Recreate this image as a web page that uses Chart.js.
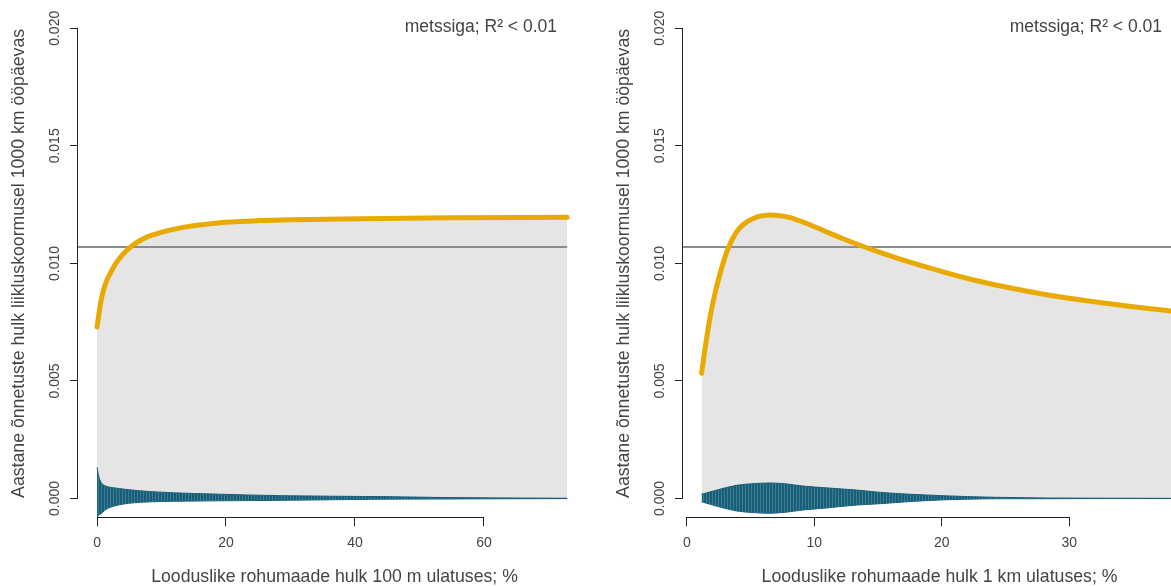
<!DOCTYPE html>
<html>
<head>
<meta charset="utf-8">
<script src="https://cdn.jsdelivr.net/npm/chart.js@4.4.1/dist/chart.umd.min.js"></script>
<style>
  html, body { margin: 0; padding: 0; background: #fff; overflow: hidden; width: 1171px; height: 586px; }
  .panel { position: absolute; top: 0; width: 605px; height: 586px; }
  #panel-left { left: 0; }
  #panel-right { left: 605px; }
</style>
</head>
<body>
<div class="panel" id="panel-left"><canvas id="chart-left" width="605" height="586"></canvas></div>
<div class="panel" id="panel-right"><canvas id="chart-right" width="605" height="586"></canvas></div>
<script>
// Shared
const yTicks = [0, 0.005, 0.010, 0.015, 0.020];
const yTitle = 'Aastane õnnetuste hulk liikluskoormusel 1000 km ööpäevas';
const noteText = 'metssiga; R² < 0.01';
const refLevel = 0.0107;

// Left panel - 100 m buffer
const leftTitle = 'Looduslike rohumaade hulk 100 m ulatuses; %';
const leftTicks = [0, 20, 40, 60];
const leftCurveX = [0, 0.25, 0.5, 0.75, 1, 1.5, 2, 3, 4, 5, 6, 7.2, 8.5, 9.8, 12, 14.9, 17, 20, 25, 30, 40.8, 55, 72.9];
const leftCurveY = [0.0073, 0.00778, 0.00822, 0.00858, 0.00886, 0.00927, 0.00955, 0.01003, 0.01038, 0.01065, 0.01086, 0.01105, 0.0112, 0.01131, 0.01146, 0.0116, 0.01167, 0.01175, 0.01182, 0.01186, 0.0119, 0.01194, 0.01196];
const leftBandX = [0, 0.3, 0.73, 1.24, 2, 3.3, 5, 8.5, 12, 18, 28.4, 44, 54, 65, 72.9];
const leftBandHigh = [0.00133, 0.0009, 0.00065, 0.00054, 0.00048, 0.00043, 0.00037, 0.00029, 0.00024, 0.00019, 0.00012, 0.00008, 0.00004, 0.00002, 0.00001];
const leftBandLow = [-0.0008, -0.0007, -0.00063, -0.00049, -0.00038, -0.00028, -0.0002, -0.00014, -0.00012, -0.0001, -0.00008, -0.00003, -0.00002, -0.00001, -0.000005];

// Right panel - 1 km buffer
const rightTitle = 'Looduslike rohumaade hulk 1 km ulatuses; %';
const rightTicks = [0, 10, 20, 30];
const rightCurveX = [1.15, 1.4, 1.81, 2.2, 2.59, 2.9, 3.24, 3.7, 4.16, 4.8, 5.47, 6, 6.51, 7.2, 8.08, 9.3, 10.7, 12.2, 13.84, 15.15, 17.5, 20.38, 23, 25.6, 28, 30.85, 34.5, 38.4];
const rightCurveY = [0.00533, 0.0063, 0.0077, 0.00872, 0.00955, 0.01012, 0.01065, 0.01117, 0.01152, 0.0118, 0.01197, 0.01203, 0.01206, 0.01204, 0.01195, 0.01172, 0.0114, 0.01106, 0.01072, 0.01047, 0.01005, 0.0096, 0.00923, 0.00893, 0.00869, 0.00845, 0.00819, 0.00795];
const rightBandX = [1.15, 2.5, 3.9, 5.2, 6.5, 7.8, 9.1, 11, 13.3, 15.2, 17.5, 20, 22, 24.3, 28.3, 33, 38.4];
const rightBandHigh = [0.00018, 0.00038, 0.00056, 0.00063, 0.00066, 0.00062, 0.00053, 0.00045, 0.00036, 0.00026, 0.00018, 0.00012, 0.00008, 0.00005, 0.00002, 0.00001, 0.000005];
const rightBandLow = [-0.00014, -0.00035, -0.00053, -0.0006, -0.00063, -0.00058, -0.00049, -0.0004, -0.00028, -0.00022, -0.00013, -0.00006, -0.00003, -0.00001, -0.00001, 0, 0];

const FONT = '"Liberation Sans", Arial, Helvetica, sans-serif';
const TEXT_COLOR = '#444444';
const AXIS_COLOR = '#222222';
const BAND_COLOR = '#175d78';

function toPoints(xs, ys) {
    return xs.map((x, i) => ({ x: x, y: ys[i] }));
}

// Striped teal fill like R segments
function bandPattern(ctx) {
    const c = document.createElement('canvas');
    c.width = 3;
    c.height = 1;
    const g = c.getContext('2d');
    g.fillStyle = BAND_COLOR;
    g.fillRect(0, 0, 3, 1);
    g.fillStyle = '#3a7d95';
    g.fillRect(2, 0, 1, 1);
    return ctx.createPattern(c, 'repeat');
}

// R style axis lines: only from first to last tick
const axisLinePlugin = {
    id: 'axisLines',
    afterDraw(chart) {
        const { ctx, chartArea, scales } = chart;
        const xt = scales.x.ticks;
        const yt = scales.y.ticks;
        ctx.save();
        ctx.strokeStyle = AXIS_COLOR;
        ctx.lineWidth = 1;
        ctx.beginPath();
        const ax = Math.round(chartArea.left) - 0.5;
        ctx.moveTo(ax, scales.y.getPixelForValue(yt[0].value));
        ctx.lineTo(ax, scales.y.getPixelForValue(yt[yt.length - 1].value));
        const ay = Math.round(chartArea.bottom) + 0.5;
        ctx.moveTo(scales.x.getPixelForValue(xt[0].value), ay);
        ctx.lineTo(scales.x.getPixelForValue(xt[xt.length - 1].value), ay);
        ctx.stroke();
        ctx.restore();
    }
};

// Note in the top right corner
const notePlugin = {
    id: 'note',
    afterDatasetsDraw(chart) {
        const { ctx, chartArea } = chart;
        ctx.save();
        ctx.font = '17.5px ' + FONT;
        ctx.fillStyle = TEXT_COLOR;
        ctx.textAlign = 'right';
        ctx.textBaseline = 'middle';
        ctx.fillText(noteText, chartArea.right - 34, chartArea.top + 17.5);
        ctx.restore();
    }
};

function makePanel(canvasId, opts) {
    const ctx = document.getElementById(canvasId).getContext('2d');
    const curve = toPoints(opts.curveX, opts.curveY);
    const lastX = opts.curveX[opts.curveX.length - 1];

    return new Chart(ctx, {
        type: 'line',
        data: {
            datasets: [
                {
                    // fitted curve (drawn on top)
                    data: curve,
                    borderColor: '#e8aa00',
                    borderWidth: 5,
                    borderCapStyle: 'round',
                    cubicInterpolationMode: 'monotone',
                    pointRadius: 0,
                    fill: false
                },
                {
                    // reference level
                    data: [{ x: opts.xMin, y: refLevel }, { x: lastX, y: refLevel }],
                    borderColor: '#8c8c8c',
                    borderWidth: 2,
                    pointRadius: 0,
                    fill: false
                },
                {
                    // band upper edge
                    data: toPoints(opts.bandX, opts.bandHigh),
                    borderWidth: 1,
                    borderColor: BAND_COLOR,
                    backgroundColor: bandPattern(ctx),
                    cubicInterpolationMode: 'monotone',
                    pointRadius: 0,
                    fill: '+1'
                },
                {
                    // band lower edge
                    data: toPoints(opts.bandX, opts.bandLow),
                    borderWidth: 1,
                    borderColor: BAND_COLOR,
                    cubicInterpolationMode: 'monotone',
                    pointRadius: 0,
                    fill: false
                },
                {
                    // grey area under the curve
                    data: curve,
                    borderWidth: 0,
                    borderColor: 'rgba(0,0,0,0)',
                    backgroundColor: '#e5e5e5',
                    cubicInterpolationMode: 'monotone',
                    pointRadius: 0,
                    fill: 'origin'
                }
            ]
        },
        options: {
            responsive: false,
            animation: false,
            layout: { padding: { top: 9.5, right: 14, left: 0, bottom: 0 } },
            plugins: {
                legend: { display: false },
                tooltip: { enabled: false }
            },
            scales: {
                x: {
                    type: 'linear',
                    min: opts.xMin,
                    max: opts.xMax,
                    afterBuildTicks: (scale) => {
                        scale.ticks = opts.xTicks.map(v => ({ value: v }));
                    },
                    afterFit: (scale) => { scale.height = 68.7; },
                    border: { display: false },
                    grid: {
                        display: true,
                        drawOnChartArea: false,
                        drawTicks: true,
                        tickLength: 9,
                        tickColor: AXIS_COLOR
                    },
                    ticks: {
                        autoSkip: false,
                        maxRotation: 0,
                        padding: 8,
                        color: TEXT_COLOR,
                        font: { family: FONT, size: 14 },
                        callback: (v) => String(v)
                    },
                    title: {
                        display: true,
                        text: opts.xTitle,
                        color: TEXT_COLOR,
                        font: { family: FONT, size: 17.7, lineHeight: 1 },
                        padding: { top: 0, bottom: 0 }
                    }
                },
                y: {
                    type: 'linear',
                    min: -0.0008,
                    max: 0.0208,
                    afterBuildTicks: (scale) => {
                        scale.ticks = yTicks.map(v => ({ value: v }));
                    },
                    afterFit: (scale) => { scale.width = 78; },
                    border: { display: false },
                    grid: {
                        display: true,
                        drawOnChartArea: false,
                        drawTicks: true,
                        tickLength: 8,
                        tickColor: AXIS_COLOR
                    },
                    ticks: {
                        autoSkip: false,
                        minRotation: 90,
                        maxRotation: 90,
                        crossAlign: 'center',
                        padding: -3,
                        color: TEXT_COLOR,
                        font: { family: FONT, size: 14 },
                        callback: (v) => v.toFixed(3)
                    },
                    title: {
                        display: true,
                        text: yTitle,
                        color: TEXT_COLOR,
                        font: { family: FONT, size: 17.7, lineHeight: 1 },
                        padding: { top: 10, bottom: 0 }
                    }
                }
            }
        },
        plugins: [axisLinePlugin, notePlugin]
    });
}

makePanel('chart-left', {
    curveX: leftCurveX, curveY: leftCurveY,
    bandX: leftBandX, bandHigh: leftBandHigh, bandLow: leftBandLow,
    xTicks: leftTicks, xTitle: leftTitle,
    xMin: -2.95, xMax: 76.6
});

makePanel('chart-right', {
    curveX: rightCurveX, curveY: rightCurveY,
    bandX: rightBandX, bandHigh: rightBandHigh, bandLow: rightBandLow,
    xTicks: rightTicks, xTitle: rightTitle,
    xMin: -0.31, xMax: 39.95
});
</script>
</body>
</html>
